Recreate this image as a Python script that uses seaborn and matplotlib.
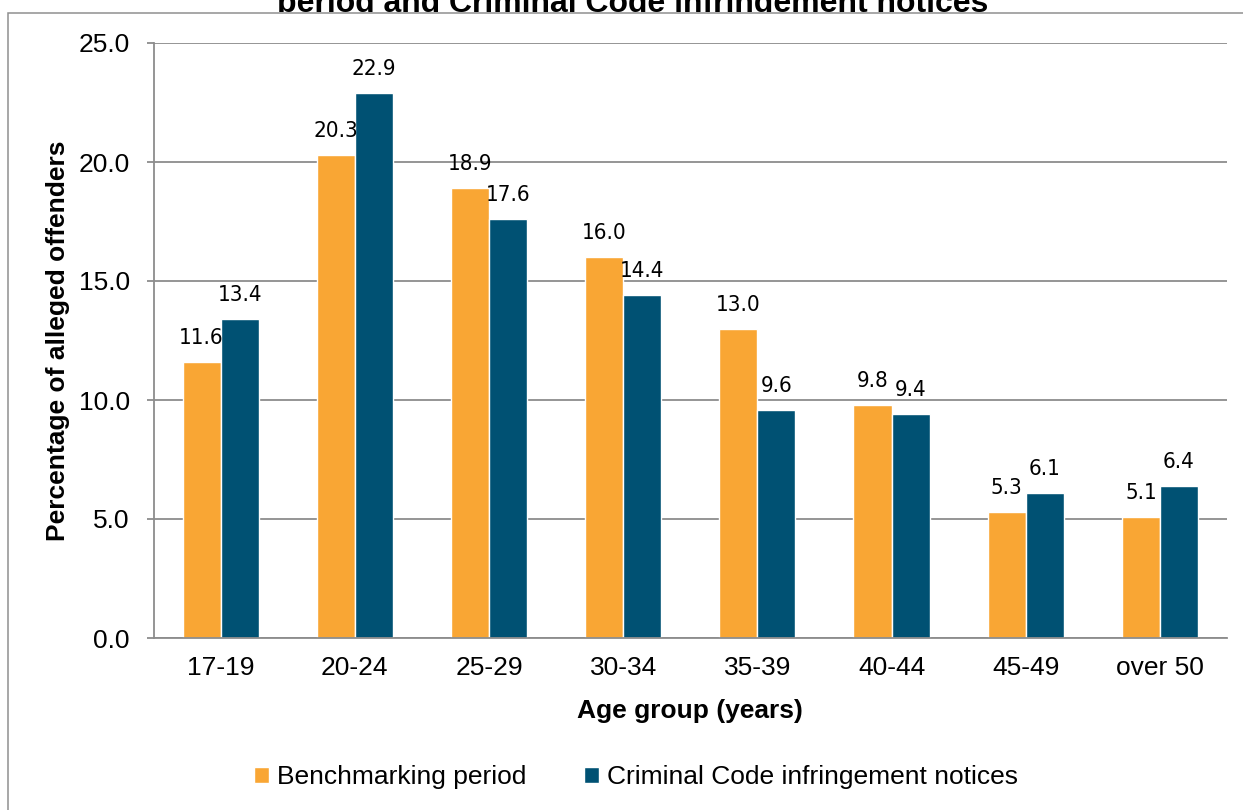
import numpy as np
import pandas as pd
import matplotlib
matplotlib.use("Agg")
import matplotlib.pyplot as plt
from matplotlib import font_manager
from matplotlib.patches import Rectangle
from matplotlib.transforms import Bbox, TransformedBbox
import seaborn as sns

# Data
age_groups = ["17-19", "20-24", "25-29", "30-34", "35-39", "40-44", "45-49", "over 50"]
series_names = ["Benchmarking period", "Criminal Code infringement notices"]
benchmarking = [11.6, 20.3, 18.9, 16.0, 13.0, 9.8, 5.3, 5.1]
infringement = [13.4, 22.9, 17.6, 14.4, 9.6, 9.4, 6.1, 6.4]
y_ticks = [0.0, 5.0, 10.0, 15.0, 20.0, 25.0]

df = pd.DataFrame({
    "age": age_groups * 2,
    "pct": benchmarking + infringement,
    "series": [series_names[0]] * len(age_groups) + [series_names[1]] * len(age_groups),
})

sns.set_style("white")
plt.rcParams["font.family"] = ["Liberation Sans", "DejaVu Sans"]
for key in ["text.color", "axes.labelcolor", "xtick.labelcolor", "ytick.labelcolor"]:
    plt.rcParams[key] = "black"


def narrow_font():
    """Pick a condensed face for the value labels, if one is installed."""
    candidates = [
        font_manager.FontProperties(family="Liberation Sans Narrow"),
        font_manager.FontProperties(family="Arial Narrow"),
        font_manager.FontProperties(family="DejaVu Sans", stretch="condensed"),
    ]
    for fp in candidates:
        try:
            path = font_manager.findfont(fp, fallback_to_default=False)
        except Exception:
            continue
        if "narrow" in path.lower() or "condensed" in path.lower():
            return font_manager.FontProperties(fname=path, size=16), True
    return font_manager.FontProperties(family="Liberation Sans", size=14), False


label_font, _ = narrow_font()

W, H = 1243, 810
fig = plt.figure(figsize=(W / 100, H / 100), dpi=100)
ax = fig.add_axes([153.5 / W, 1 - 638 / H, (1227 - 153.5) / W, (638 - 43) / H])

colors = {series_names[0]: "#F9A634", series_names[1]: "#005173"}
sns.barplot(data=df, x="age", y="pct", hue="series", order=age_groups,
            hue_order=series_names, palette=colors, saturation=1,
            width=0.567, ax=ax, errorbar=None)

grid_c = "#8c8c8c"
ax.set_ylim(0, 25)
ax.set_xlim(-0.5, len(age_groups) - 0.5)
ax.set_yticks(y_ticks)
ax.set_yticklabels([f"{v:.1f}" for v in y_ticks], fontsize=19)
ax.set_xticks(range(len(age_groups)))
ax.set_xticklabels(age_groups, fontsize=19)
ax.set_xticks(np.arange(-0.5, len(age_groups), 1), minor=True)
ax.tick_params(axis="x", which="major", length=0, pad=13)
ax.tick_params(axis="x", which="minor", length=6, width=1.3, color=grid_c)
ax.tick_params(axis="y", length=5, width=1.3, color=grid_c, pad=12, left=True)
ax.set_axisbelow(True)
ax.yaxis.grid(True, color=grid_c, linewidth=1.3)
ax.xaxis.grid(False)
for s in ["top", "right"]:
    ax.spines[s].set_visible(False)
for s in ["left", "bottom"]:
    ax.spines[s].set_color(grid_c)
    ax.spines[s].set_linewidth(1.3)

# Value labels above each bar
for cont in ax.containers:
    texts = ax.bar_label(cont, fmt="%.1f", padding=10)
    for t in texts:
        t.set_fontproperties(label_font)
        t.set_color("black")

ax.set_xlabel("Age group (years)", fontsize=19, fontweight="bold")
ax.set_ylabel("Percentage of alleged offenders", fontsize=19, fontweight="bold", va="center")
ax.xaxis.set_label_coords(0.5, -0.102)
ax.yaxis.set_label_coords((58 - 153.5) / (1227 - 153.5), 0.5)

handles, labels = ax.get_legend_handles_labels()
ax.get_legend().remove()
fig.legend(handles, labels, loc="center", bbox_to_anchor=(636 / W, 1 - 777 / H),
           ncol=2, frameon=False, fontsize=19, handlelength=0.55, handleheight=0.55,
           handletextpad=0.3, columnspacing=2.2)

# Chart area border
fig.patches.append(Rectangle((7.5 / W, -0.2), 1.5, 1 - 13 / H + 0.2,
                             transform=fig.transFigure, fill=False,
                             edgecolor="#8f8f8f", linewidth=1.1, clip_on=False))

# Title (second line, cut off at the top of the page)
title = fig.text(633 / W, 1 - 12 / H, "period and Criminal Code infringement notices",
                 ha="center", va="baseline", fontsize=23, fontweight="bold")
title.set_clip_box(TransformedBbox(Bbox([[0, 1 - 11.5 / H], [1, 1]]), fig.transFigure))
title.set_clip_on(True)

fig.savefig("out.png", dpi=100)
